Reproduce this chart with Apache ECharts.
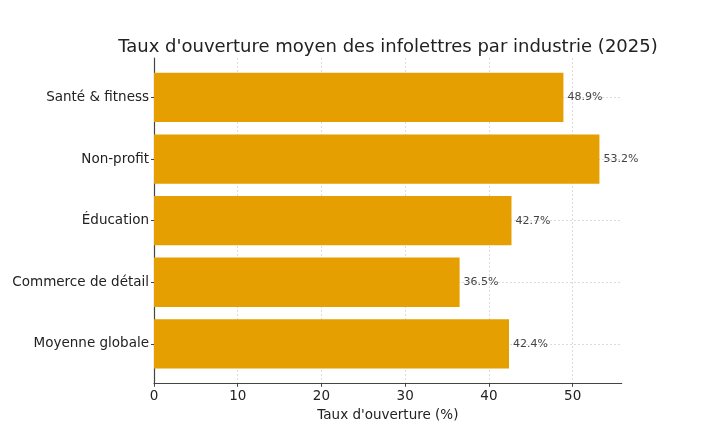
<!DOCTYPE html>
<html><head><meta charset="utf-8">
<script src="https://cdn.jsdelivr.net/npm/echarts@6/dist/echarts.min.js"></script>
<style>html,body{margin:0;padding:0;background:#fff}#c{width:706px;height:429px}</style>
</head><body><div id="c"></div>
<script>
const categories = ["Santé & fitness", "Non-profit", "Éducation", "Commerce de détail", "Moyenne globale"];
const openRates = [48.9, 53.2, 42.7, 36.5, 42.4];
const xTicks = [0, 10, 20, 30, 40, 50];

const F = 'DejaVu Sans';
const L = 154, R = 706 - 621.7, T = 58, B = 429 - 383.3;
const plotH = 429 - T - B;
const unit = plotH / 5.28;
const xMax = Math.max(...openRates) * 1.05;

const chart = echarts.init(document.getElementById('c'));
chart.setOption({
  animation: false,
  backgroundColor: '#fff',
  title: {
    text: "Taux d'ouverture moyen des infolettres par industrie (2025)",
    left: 383, top: 33, textAlign: 'center',
    textStyle: { fontFamily: F, fontSize: 18, fontWeight: 'normal', color: '#222' }
  },
  grid: [
    { left: L, right: R, top: T, bottom: B },
    { left: L, right: R, top: T + 0.64 * unit, height: 4 * unit }
  ],
  xAxis: [
    {
      gridIndex: 0, type: 'value', min: 0, max: xMax, interval: 10,
      name: "Taux d'ouverture (%)", nameLocation: 'middle', nameGap: 22,
      nameTextStyle: { fontFamily: F, fontSize: 13.5, color: '#222' },
      axisLine: { show: true, lineStyle: { color: '#444', width: 1.2 } },
      axisTick: { show: true, inside: false, length: 3.5, lineStyle: { color: '#444' },
        customValues: xTicks },
      axisLabel: { fontFamily: F, fontSize: 13.5, color: '#222', margin: 6,
        customValues: xTicks },
      splitLine: { show: true, lineStyle: { color: '#d4d4d4', type: [2, 2], width: 0.8 } }
    },
    { gridIndex: 1, type: 'value', min: 0, max: xMax, show: false }
  ],
  yAxis: [
    {
      gridIndex: 0, type: 'value', min: 0, max: 1,
      axisLine: { show: true, lineStyle: { color: '#444', width: 1.2 } },
      axisTick: { show: false }, axisLabel: { show: false }, splitLine: { show: false }
    },
    {
      gridIndex: 1, type: 'category', data: categories, inverse: true, boundaryGap: false,
      axisLine: { show: false },
      axisTick: { show: true, length: 3, lineStyle: { color: '#444' } },
      axisLabel: { fontFamily: F, fontSize: 13.5, color: '#222', margin: 5 },
      splitLine: { show: true, lineStyle: { color: '#d4d4d4', type: [2, 2], width: 0.8 } }
    }
  ],
  series: [{
    type: 'bar', xAxisIndex: 1, yAxisIndex: 1, data: openRates,
    barWidth: 0.8 * unit, clip: false,
    itemStyle: { color: '#E69F00' },
    label: {
      show: true, position: 'right', distance: 4,
      fontFamily: F, fontSize: 11, color: '#444',
      formatter: p => p.value.toFixed(1) + '%'
    }
  }]
});
</script></body></html>
